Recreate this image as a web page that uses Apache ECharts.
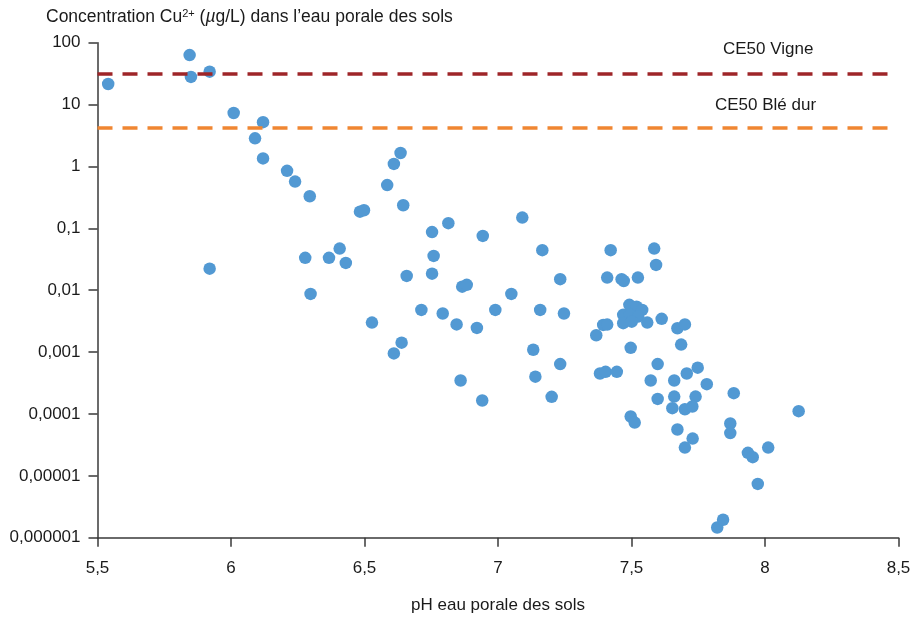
<!DOCTYPE html>
<html>
<head>
<meta charset="utf-8">
<script src="https://cdn.jsdelivr.net/npm/echarts@6/dist/echarts.min.js"></script>
<style>
  html, body { margin: 0; padding: 0; background: #fff; }
  #chart { width: 916px; height: 617px; }
</style>
</head>
<body>
<div id="chart"></div>
<script>
// pH de l'eau porale, concentration Cu2+ (µg/L)
const points = [
  [5.54, 21.5], [5.845, 63], [5.85, 28], [5.92, 34], [6.01, 7.3],
  [6.12, 5.2], [6.09, 2.85], [6.12, 1.35], [6.21, 0.85], [6.24, 0.57],
  [6.295, 0.33], [6.585, 0.5], [6.61, 1.1], [6.635, 1.65], [6.645, 0.236],
  [6.483, 0.186], [6.498, 0.196], [6.753, 0.087], [6.814, 0.121], [5.92, 0.0223],
  [6.278, 0.0333], [6.367, 0.0333], [6.407, 0.047], [6.43, 0.0276], [6.759, 0.0358],
  [6.753, 0.0185], [6.658, 0.017], [6.298, 0.0087], [6.528, 0.003], [6.713, 0.0048],
  [6.793, 0.0042], [6.845, 0.0028], [6.866, 0.0114], [6.883, 0.0122], [6.639, 0.00142],
  [6.61, 0.00095], [6.943, 0.0754], [7.091, 0.149], [7.166, 0.0443], [7.422, 0.0443],
  [7.585, 0.047], [7.592, 0.0256], [7.233, 0.0151], [7.409, 0.016], [7.463, 0.0151],
  [7.471, 0.0141], [7.524, 0.016], [7.05, 0.0087], [6.921, 0.00246], [6.99, 0.0048],
  [7.158, 0.0048], [7.247, 0.0042], [7.368, 0.00187], [7.394, 0.00275], [7.409, 0.00278],
  [7.492, 0.0058], [7.519, 0.0054], [7.54, 0.0048], [7.469, 0.004], [7.494, 0.004],
  [7.525, 0.00375], [7.469, 0.00293], [7.501, 0.0031], [7.559, 0.003], [7.613, 0.00345],
  [7.672, 0.00243], [7.7, 0.0028], [7.686, 0.00132], [7.497, 0.00117], [7.132, 0.00109],
  [7.233, 0.00064], [7.598, 0.00064], [7.382, 0.00045], [7.403, 0.00048], [7.445, 0.00048],
  [7.748, 0.00056], [7.707, 0.00045], [6.86, 0.000347], [6.941, 0.000165], [7.14, 0.0004],
  [7.201, 0.000189], [7.572, 0.000347], [7.66, 0.000347], [7.782, 0.000303], [7.598, 0.000175],
  [7.66, 0.000191], [7.74, 0.000191], [7.653, 0.000124], [7.7, 0.000119], [7.728, 0.000132],
  [7.883, 0.000217], [8.126, 0.000111], [7.497, 0.0000908], [7.512, 0.0000726], [7.672, 0.000056],
  [7.729, 0.00004], [7.7, 0.0000286], [7.87, 0.00007], [7.87, 0.000049], [7.936, 0.0000235],
  [7.954, 0.00002], [8.012, 0.0000286], [7.973, 0.0000074], [7.821, 0.00000146], [7.843, 0.00000195]
];

// seuils CE50
const thresholdNames = ["CE50 Vigne", "CE50 Blé dur"];
const thresholdValues = [32, 4.2];

const xTicks = ["5,5", "6", "6,5", "7", "7,5", "8", "8,5"];
const yTicks = ["0,000001", "0,00001", "0,0001", "0,001", "0,01", "0,1", "1", "10", "100"];

const font = "'Liberation Sans', Arial, Helvetica, sans-serif";
const axisColor = "#3a3a3a";
const textColor = "#1a1a1a";

const chart = echarts.init(document.getElementById("chart"));

chart.setOption({
  animation: false,
  textStyle: { fontFamily: font },
  title: {
    text: "Concentration Cu{sup|2+} ({i|µ}g/L) dans l’eau porale des sols",
    left: 46,
    top: 8,
    padding: 0,
    textStyle: {
      fontFamily: font,
      fontSize: 17.5,
      fontWeight: "normal",
      color: textColor,
      rich: {
        sup: { fontSize: 11, verticalAlign: "top", padding: [0, 0, 7, 0], color: textColor, fontFamily: font },
        i: { fontSize: 17.5, fontStyle: "italic", color: textColor, fontFamily: font }
      }
    }
  },
  grid: {
    left: 97.5,
    right: 17.5,
    top: 42.7,
    bottom: 79.3,
    outerBoundsMode: "none"
  },
  xAxis: {
    type: "value",
    min: 5.5,
    max: 8.5,
    interval: 0.5,
    name: "pH eau porale des sols",
    nameLocation: "middle",
    nameGap: 59,
    nameTextStyle: { fontSize: 17, color: textColor, fontFamily: font },
    axisLine: { lineStyle: { color: axisColor, width: 1.5 } },
    axisTick: { length: 9, lineStyle: { color: axisColor, width: 1.5 } },
    axisLabel: {
      fontSize: 17,
      color: textColor,
      margin: 22,
      formatter: (v) => xTicks[Math.round((v - 5.5) / 0.5)]
    },
    splitLine: { show: false }
  },
  yAxis: {
    type: "log",
    logBase: 10,
    min: 0.000001,
    max: 100,
    axisLine: { show: true, lineStyle: { color: axisColor, width: 1.5 } },
    axisTick: { show: true, length: 9, lineStyle: { color: axisColor, width: 1.5 } },
    axisLabel: {
      fontSize: 17,
      color: textColor,
      margin: 17,
      formatter: (v) => yTicks[Math.round(Math.log10(v)) + 6]
    },
    splitLine: { show: false }
  },
  graphic: [
    {
      type: "text",
      left: 723,
      top: 41,
      style: { text: thresholdNames[0], fontSize: 17, fill: textColor, fontFamily: font }
    },
    {
      type: "text",
      left: 715,
      top: 97,
      style: { text: thresholdNames[1], fontSize: 17, fill: textColor, fontFamily: font }
    }
  ],
  series: [
    {
      type: "scatter",
      data: points,
      symbolSize: 12.5,
      itemStyle: { color: "#5299d3", opacity: 1 },
      markLine: {
        silent: true,
        symbol: "none",
        label: { show: false },
        data: [
          [
            { coord: [5.5, thresholdValues[0]], lineStyle: { color: "#9e2528", width: 3.5, type: [15, 10] } },
            { coord: [8.49, thresholdValues[0]] }
          ],
          [
            { coord: [5.5, thresholdValues[1]], lineStyle: { color: "#f08632", width: 3.5, type: [15, 10] } },
            { coord: [8.49, thresholdValues[1]] }
          ]
        ]
      }
    }
  ]
});
</script>
</body>
</html>
